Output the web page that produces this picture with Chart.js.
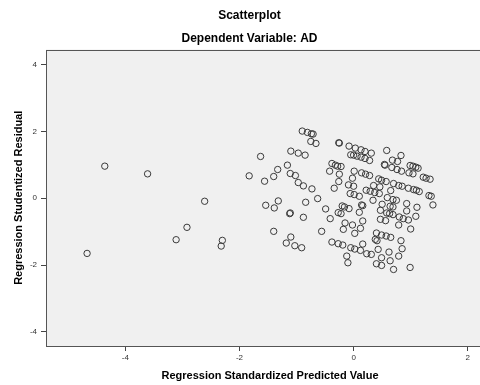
<!DOCTYPE html>
<html>
<head>
<meta charset="utf-8">
<script src="https://cdn.jsdelivr.net/npm/chart.js@4/dist/chart.umd.min.js"></script>
<style>
  html, body { margin: 0; padding: 0; background: #fff; overflow: hidden; }
  #wrap { width: 499px; height: 385px; }
</style>
</head>
<body>
<div id="wrap"><canvas id="chart" width="499" height="385"></canvas></div>
<script>
// Regression Standardized Predicted Value (x) and Studentized Residual (y)
var predicted = [
  -4.36, -3.61, -4.67, -2.61, -2.92, -3.11, -2.30, -2.32,
  -0.90, -0.81, -0.74, -0.71, -0.75, -0.66, -0.26, -0.25, -1.10, -0.97, -0.85, -1.63,
  -1.16, -0.38, -0.32, -0.28, -0.22, -1.33, -0.42, -1.11, -1.02, -1.83, -1.40, -0.25,
  -1.56, -0.97, -0.88, -0.26, -0.34, -0.73, -0.63, -1.32, -0.84, -1.54, -1.39, -0.20,
  -0.16, -0.49, -0.27, -0.22, -1.11, -1.12, -0.88, -0.41, -0.15, -0.18, -1.40, -0.56,
  -1.10, -0.38, -0.27, -0.19, -1.18, -1.03, -0.91, -0.12, -0.10,
  -0.08, 0.03, 0.13, 0.20, 0.31, 0.58, -0.05, 0.00, 0.06, 0.13, 0.20, 0.28, 0.83,
  0.68, 0.77, 0.54, 0.55, 0.99, 1.04, 1.09, 1.13, 0.67, 0.76, 0.84, 0.01, 0.14,
  0.21, 0.28, 0.97, 1.04, -0.02, 1.22, 1.27, 1.34, 0.44, 0.49, 0.57, -0.09, 0.00,
  0.35, 0.70, 0.79, 0.85, 0.96, 1.05, 1.10, 1.15, 0.22, 0.29, 0.37, 0.45, 0.65,
  -0.06, 0.01, 0.10, 0.59, 0.69, 0.75, 1.32, 1.36, 0.34, 0.50, 0.93, 0.64, 0.69,
  1.39, 0.14, 0.16, -0.08, 1.11, 0.47, 0.93, 0.10, 0.58, 0.63, 0.69, 1.09, 0.80,
  0.87, 0.96, 0.47, 0.56, 0.16, -0.02, 0.12, 0.79, 1.00, 0.02, 0.40, 0.49, 0.57,
  0.65, 0.38, 0.41, 0.83, 0.16, -0.05, 0.02, 0.12, 0.23, 0.31, 0.43, 0.85, 0.62,
  0.79, 0.49, 0.64, 0.40, 0.49, 0.99, 0.70, 0.46
];
var residual = [
  0.96, 0.73, -1.65, -0.09, -0.87, -1.24, -1.26, -1.43,
  2.01, 1.97, 1.93, 1.92, 1.70, 1.64, 1.66, 1.65, 1.41, 1.35, 1.29, 1.25,
  0.99, 1.04, 0.99, 0.96, 0.95, 0.86, 0.81, 0.74, 0.68, 0.67, 0.65, 0.72,
  0.51, 0.47, 0.37, 0.50, 0.30, 0.28, -0.01, -0.08, -0.12, -0.21, -0.29, -0.23,
  -0.26, -0.32, -0.43, -0.46, -0.44, -0.46, -0.57, -0.61, -0.74, -0.93, -0.99, -0.99,
  -1.16, -1.31, -1.36, -1.40, -1.34, -1.42, -1.48, -1.73, -1.93,
  1.56, 1.50, 1.45, 1.40, 1.35, 1.43, 1.30, 1.29, 1.26, 1.23, 1.19, 1.13, 1.28,
  1.14, 1.10, 1.01, 0.99, 0.98, 0.96, 0.93, 0.90, 0.92, 0.86, 0.81, 0.81, 0.76,
  0.72, 0.68, 0.76, 0.73, 0.60, 0.63, 0.60, 0.57, 0.58, 0.54, 0.50, 0.40, 0.36,
  0.38, 0.44, 0.38, 0.36, 0.30, 0.26, 0.24, 0.20, 0.24, 0.21, 0.17, 0.14, 0.23,
  0.14, 0.11, 0.06, 0.02, -0.04, -0.06, 0.08, 0.06, -0.06, -0.18, -0.16, -0.24, -0.26,
  -0.20, -0.20, -0.22, -0.31, -0.27, -0.36, -0.38, -0.42, -0.44, -0.46, -0.49, -0.54, -0.56,
  -0.61, -0.65, -0.63, -0.67, -0.68, -0.80, -0.90, -0.80, -0.92, -1.05, -1.04, -1.10, -1.13,
  -1.17, -1.23, -1.27, -1.27, -1.37, -1.48, -1.52, -1.56, -1.66, -1.68, -1.53, -1.51, -1.61,
  -1.73, -1.78, -1.87, -1.96, -2.01, -2.07, -2.13, 0.34
];
var xTicks = [-4, -2, 0, 2];
var yTicks = [-4, -2, 0, 2, 4];

var font = "'Liberation Sans', Arial, sans-serif";

var points = predicted.map(function (v, i) {
    return { x: v, y: residual[i] };
});

// grey plot background with a thin frame, like the SPSS output
var plotFrame = {
    id: 'plotFrame',
    beforeDatasetsDraw: function (chart) {
        var a = chart.chartArea;
        var ctx = chart.ctx;
        ctx.save();
        ctx.fillStyle = '#f0f0f0';
        ctx.fillRect(a.left, a.top, a.right - a.left, a.bottom - a.top);
        ctx.strokeStyle = '#555';
        ctx.lineWidth = 1;
        ctx.strokeRect(Math.round(a.left) + 0.5, Math.round(a.top) + 0.5,
            Math.round(a.right - a.left), Math.round(a.bottom - a.top) - 1);
        ctx.restore();
    }
};

var config = {
    type: 'scatter',
    data: {
        datasets: [{
            data: points,
            pointStyle: 'circle',
            pointRadius: 3.2,
            borderWidth: 1,
            borderColor: '#3a3a3a',
            backgroundColor: 'rgba(0,0,0,0)'
        }]
    },
    options: {
        responsive: false,
        animation: false,
        events: [],
        layout: { padding: 0 },
        plugins: {
            legend: { display: false },
            tooltip: { enabled: false },
            title: {
                display: true,
                text: 'Scatterplot',
                color: '#000',
                font: { family: font, size: 12, weight: 'bold' },
                padding: { top: 8.5, bottom: 4 }
            },
            subtitle: {
                display: true,
                text: 'Dependent Variable: AD',
                color: '#000',
                font: { family: font, size: 12, weight: 'bold' },
                padding: { top: 4.9, bottom: 3.3 }
            }
        },
        scales: {
            x: {
                type: 'linear',
                min: -5.39,
                max: 2.46,
                afterBuildTicks: function (s) {
                    s.ticks = xTicks.map(function (v) { return { value: v }; });
                },
                afterFit: function (s) { s.height = 39; },
                grid: { drawOnChartArea: false, tickLength: 5, tickColor: '#444' },
                border: { display: false },
                ticks: { color: '#333', padding: 2, maxRotation: 0, font: { family: font, size: 8 } },
                title: {
                    display: true,
                    text: 'Regression Standardized Predicted Value',
                    color: '#000',
                    font: { family: font, size: 11, weight: 'bold' },
                    padding: { top: 2, bottom: 2 }
                }
            },
            y: {
                type: 'linear',
                min: -4.42,
                max: 4.45,
                afterBuildTicks: function (s) {
                    s.ticks = yTicks.map(function (v) { return { value: v }; });
                },
                afterFit: function (s) { s.width = 46; },
                grid: { drawOnChartArea: false, tickLength: 5, tickColor: '#444' },
                border: { display: false },
                ticks: { color: '#333', padding: 4, font: { family: font, size: 8 } },
                title: {
                    display: true,
                    text: 'Regression Studentized Residual',
                    color: '#000',
                    font: { family: font, size: 11, weight: 'bold' },
                    padding: { top: 12, bottom: 12 }
                }
            }
        }
    },
    plugins: [plotFrame]
};

var ctx = document.getElementById('chart').getContext('2d');
window.myScatter = new Chart(ctx, config);
</script>
</body>
</html>
